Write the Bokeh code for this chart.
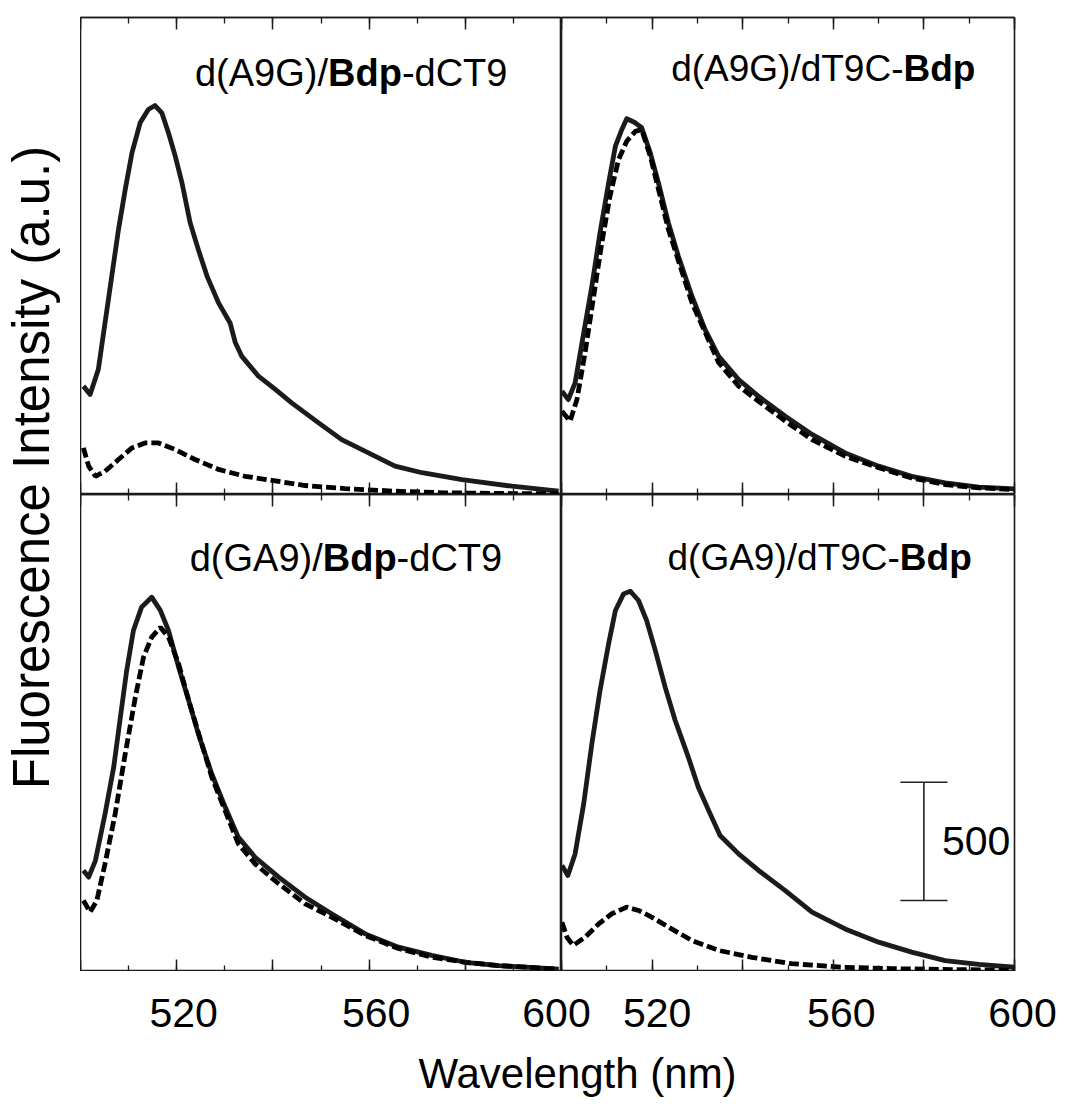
import math
from bokeh.plotting import figure
from bokeh.models import Range1d, LinearAxis, SingleIntervalTicker, CustomLabelingPolicy
from bokeh.layouts import row, column
from bokeh.embed import file_html
from bokeh.resources import INLINE
from bokeh.core.properties import value

FONT = "Liberation Sans"
INK = "#1c1a1a"

# ---------------- data: wavelength (nm) / fluorescence intensity (a.u.) ----------------
tl_solid_wl = [500.6, 502.0, 503.7, 505.1, 506.5, 507.9, 509.3, 510.7, 512.4, 514.1, 515.5, 516.9, 518.3,
               519.7, 521.1, 522.8, 524.5, 526.3, 528.7, 531.1, 532.2, 533.5, 537.0, 540.5, 543.9, 549.5,
               554.3, 558.5, 565.4, 571.0, 579.3, 589.7, 599.4]
tl_solid_I = [458, 423, 528, 725, 923, 1120, 1289, 1444, 1571, 1627, 1644, 1613, 1528, 1430, 1317, 1148,
              1035, 923, 810, 725, 641, 585, 500, 444, 387, 303, 232, 190, 120, 92, 63, 35, 14]
tl_dash_wl = [500.6, 501.7, 503.1, 505.1, 507.9, 510.7, 513.4, 516.2, 519.7, 523.8, 528.7, 534.2, 539.8,
              546.7, 555.0, 565.4, 575.8, 589.7, 599.4]
tl_dash_I = [197, 120, 77, 98, 148, 197, 218, 218, 190, 148, 106, 77, 60, 38, 25, 14, 7, 4, 3]

tr_solid_wl = [500.1, 501.5, 503.0, 504.9, 506.7, 508.5, 510.4, 511.9, 513.3, 514.4, 516.3, 517.7, 519.6,
               521.4, 523.6, 525.8, 528.8, 531.7, 534.7, 539.1, 543.5, 549.4, 555.3, 562.6, 570.0, 577.3,
               584.7, 592.1, 600.0]
tr_solid_I = [437, 401, 472, 683, 880, 1106, 1317, 1472, 1542, 1588, 1571, 1550, 1444, 1317, 1148, 1007,
              838, 697, 584, 486, 415, 331, 254, 176, 120, 77, 49, 31, 24]
tr_dash_wl = [500.1, 501.9, 503.4, 505.2, 507.1, 508.9, 510.7, 512.6, 514.4, 516.3, 517.7, 519.6, 523.6,
              528.8, 534.7, 539.1, 543.5, 549.4, 555.3, 562.6, 570.0, 577.3, 584.7, 592.1, 600.0]
tr_dash_I = [352, 310, 401, 599, 838, 1064, 1261, 1416, 1493, 1535, 1542, 1430, 1120, 810, 557, 458, 394,
             310, 232, 162, 113, 70, 42, 28, 21]

bl_solid_wl = [500.6, 501.7, 503.1, 505.1, 506.9, 508.2, 509.6, 511.0, 512.7, 514.8, 516.6, 518.3, 520.4,
               522.5, 524.5, 527.3, 530.1, 532.8, 536.3, 541.2, 546.7, 552.2, 559.2, 566.1, 573.0, 580.0,
               586.9, 595.2, 599.4]
bl_solid_I = [427, 399, 469, 666, 863, 1061, 1272, 1441, 1540, 1582, 1526, 1441, 1286, 1145, 1004, 835,
              694, 568, 483, 399, 314, 244, 159, 103, 68, 39, 25, 15, 10]
bl_dash_wl = [500.6, 502.0, 503.4, 505.1, 507.2, 509.3, 511.4, 513.1, 514.8, 516.6, 518.3, 520.4, 522.5,
              527.3, 532.8, 536.3, 541.2, 546.7, 552.2, 559.2, 566.1, 573.0, 580.0, 586.9, 599.4]
bl_dash_I = [300, 251, 300, 455, 666, 920, 1159, 1328, 1413, 1455, 1413, 1300, 1145, 821, 540, 455, 371,
             286, 230, 152, 97, 61, 39, 25, 10]

br_solid_wl = [500.1, 501.4, 503.0, 504.9, 506.7, 508.5, 510.4, 511.9, 513.7, 515.2, 517.0, 518.8, 520.7,
               522.9, 525.1, 528.0, 530.2, 532.5, 535.0, 539.1, 543.5, 549.4, 555.3, 562.6, 570.0, 577.3,
               584.7, 592.1, 600.0]
br_solid_I = [448, 406, 497, 709, 962, 1187, 1385, 1526, 1596, 1607, 1568, 1483, 1357, 1201, 1061, 906,
              779, 680, 575, 497, 427, 342, 251, 180, 124, 82, 46, 30, 18]
br_dash_wl = [500.1, 501.2, 502.6, 505.2, 508.2, 511.1, 514.4, 517.0, 519.9, 524.3, 528.8, 534.7, 542.0,
              550.8, 561.9, 572.9, 587.6, 600.0]
br_dash_I = [208, 145, 110, 145, 201, 244, 272, 258, 230, 180, 131, 89, 60, 33, 18, 12, 8, 5]

# panel titles: (text, bold?) segments
tl_title = [("d(A9G)/", False), ("Bdp", True), ("-dCT9", False)]
tr_title = [("d(A9G)/dT9C-", False), ("Bdp", True)]
bl_title = [("d(GA9)/", False), ("Bdp", True), ("-dCT9", False)]
br_title = [("d(GA9)/dT9C-", False), ("Bdp", True)]

x_tick_labels = [520, 560, 600]
scale_bar_x = 580
scale_bar_low = 300
scale_bar_size = 500

x_label = "Wavelength (nm)"
y_label = "Fluorescence Intensity (a.u.)"

# ---------------- layout constants ----------------
LW, RW = 481, 453          # frame widths of left / right column
FH = 477                   # frame height of each row
TOP_PAD, RIGHT_PAD, LEFT_PAD, STRIP_H = 17, 72, 80, 132
XMIN, XMAX = 500, 600
YMAX = 2016

# Arial / Liberation Sans advance widths (per 1000 em)
AW = {"d": 556, "(": 333, ")": 333, "A": 667, "G": 778, "9": 556, "/": 278, "-": 333, "C": 722,
      "T": 611, "B": 667, "p": 556}
AWB = {"B": 722, "d": 611, "p": 611}


def text_w(s, size, bold=False):
    tbl = AWB if bold else AW
    return sum(tbl.get(c, AW.get(c, 556)) for c in s) * size / 1000.0


HIDE_LABELS = CustomLabelingPolicy(code="return new Set()")


def make_panel(fw, mb_top, mb_right):
    p = figure(frame_width=fw, frame_height=FH, x_range=Range1d(XMIN, XMAX), y_range=Range1d(0, YMAX),
               x_axis_type=None, y_axis_type=None, toolbar_location=None, tools="",
               output_backend="svg", min_border_left=0, min_border_right=mb_right,
               min_border_top=mb_top, min_border_bottom=0,
               outline_line_color=INK, outline_line_width=1.6,
               background_fill_color="white", border_fill_color="white")
    for loc in ("above", "below"):
        ax = LinearAxis(ticker=SingleIntervalTicker(interval=20, num_minor_ticks=2),
                        major_tick_in=12, major_tick_out=0, minor_tick_in=6, minor_tick_out=0,
                        major_label_policy=HIDE_LABELS,
                        major_label_text_font_size="0px", major_label_standoff=0,
                        axis_line_color=INK, axis_line_width=1.6,
                        major_tick_line_color=INK, major_tick_line_width=1.5,
                        minor_tick_line_color=INK, minor_tick_line_width=1.3)
        p.add_layout(ax, loc)
    return p


def draw(p, sw, si, dw, di, title, tx, ty, tsize):
    p.line(sw, si, line_color=INK, line_width=4.8, line_join="round")
    p.line(dw, di, line_color="black", line_width=4.8, line_dash="10 4")
    off = 0.0
    for seg, bold in title:
        p.text(x=[tx], y=[ty], text=[seg], x_offset=off, text_font=value(FONT),
               text_font_size=f"{tsize}px", text_font_style="bold" if bold else "normal",
               text_color="black", text_align="left", text_baseline="middle")
        off += text_w(seg, tsize, bold)


p1 = make_panel(LW, TOP_PAD, 0)
p2 = make_panel(RW, TOP_PAD, RIGHT_PAD)
p3 = make_panel(LW, 0, 0)
p4 = make_panel(RW, 0, RIGHT_PAD)

draw(p1, tl_solid_wl, tl_solid_I, tl_dash_wl, tl_dash_I, tl_title, 523.8, 1783, 38)
draw(p2, tr_solid_wl, tr_solid_I, tr_dash_wl, tr_dash_I, tr_title, 524.2, 1799, 37)
draw(p3, bl_solid_wl, bl_solid_I, bl_dash_wl, bl_dash_I, bl_title, 522.7, 1749, 38)
draw(p4, br_solid_wl, br_solid_I, br_dash_wl, br_dash_I, br_title, 523.4, 1749, 37)

# scale bar (500 a.u.) in bottom-right panel
sb_top = scale_bar_low + scale_bar_size
p4.segment(x0=[scale_bar_x], y0=[scale_bar_low], x1=[scale_bar_x], y1=[sb_top],
           line_color="#222222", line_width=1.6)
p4.segment(x0=[scale_bar_x - 5.2, scale_bar_x - 5.2], y0=[scale_bar_low, sb_top],
           x1=[scale_bar_x + 5.2, scale_bar_x + 5.2], y1=[scale_bar_low, sb_top],
           line_color="#222222", line_width=1.6)
p4.text(x=[scale_bar_x + 4.0], y=[scale_bar_low + scale_bar_size / 2], text=[str(scale_bar_size)],
        text_font=value(FONT), text_font_size="41px", text_color="black",
        text_align="left", text_baseline="middle")

# ---------------- bottom strip: tick labels + x-axis title ----------------
SW = LW + RW + RIGHT_PAD
strip = figure(frame_width=SW, frame_height=STRIP_H, x_range=Range1d(0, SW), y_range=Range1d(0, STRIP_H),
               x_axis_type=None, y_axis_type=None, toolbar_location=None, tools="",
               output_backend="svg", min_border=0, outline_line_color=None)
strip.extra_x_ranges = {
    "xl": Range1d(XMIN, XMIN + (XMAX - XMIN) * SW / LW),
    "xr": Range1d(XMIN - (XMAX - XMIN) * LW / RW, XMIN + (XMAX - XMIN) * (SW - LW) / RW),
}
tick_y = STRIP_H - 41.5
strip.text(x=x_tick_labels, y=[tick_y] * 3, text=[str(v) for v in x_tick_labels], x_range_name="xl",
           x_offset=[7, 7, -5], text_font=value(FONT), text_font_size="41px", text_color="black",
           text_align="center", text_baseline="middle")
strip.text(x=x_tick_labels, y=[tick_y] * 3, text=[str(v) for v in x_tick_labels], x_range_name="xr",
           x_offset=[5, 8, 8], text_font=value(FONT), text_font_size="41px", text_color="black",
           text_align="center", text_baseline="middle")
strip.text(x=[497], y=[STRIP_H - 102], text=[x_label], text_font=value(FONT), text_font_size="42px",
           text_color="black", text_align="center", text_baseline="middle")

# ---------------- left strip: y-axis title ----------------
TOTAL_H = TOP_PAD + 2 * FH + STRIP_H
yfig = figure(frame_width=LEFT_PAD, frame_height=TOTAL_H, x_range=Range1d(0, LEFT_PAD),
              y_range=Range1d(0, TOTAL_H), x_axis_type=None, y_axis_type=None,
              toolbar_location=None, tools="", output_backend="svg", min_border=0,
              outline_line_color=None)
yfig.text(x=[31], y=[TOTAL_H - 467], text=[y_label], angle=math.pi / 2, text_font=value(FONT),
          text_font_size="51px", text_color="black", text_align="center", text_baseline="middle")

layout = row(yfig, column(row(p1, p2), row(p3, p4), strip))

open("out.html", "w").write(file_html(layout, INLINE))
